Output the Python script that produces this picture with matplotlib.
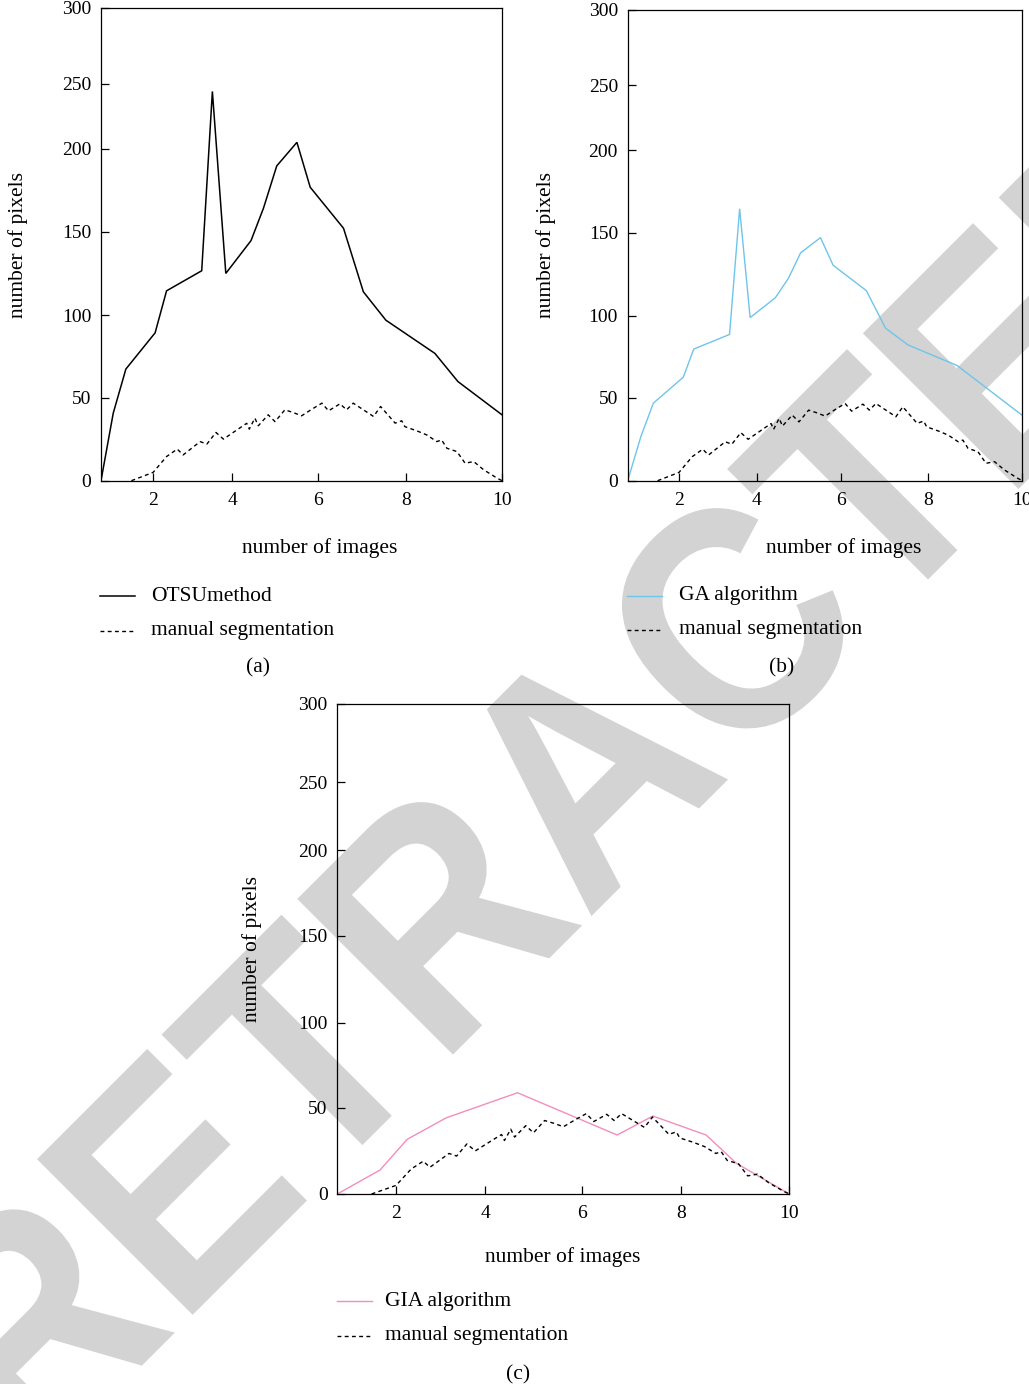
import numpy as np
import matplotlib
matplotlib.use("Agg")
import matplotlib.pyplot as plt
from matplotlib.lines import Line2D
from matplotlib.textpath import TextPath
from matplotlib.patches import PathPatch
from matplotlib.font_manager import FontProperties
from matplotlib.transforms import Affine2D

# ---------------- data ----------------
otsu_x = [0.68, 0.99, 1.31, 2.05, 2.34, 3.23, 3.50, 3.84, 4.44, 4.73, 5.04, 5.51,
          5.82, 6.58, 7.03, 7.54, 8.60, 9.08, 10.0]
otsu_y = [0, 40.6, 67.3, 89.3, 114.6, 126.6, 244, 125, 144.6, 164.1, 189.7, 205,
          176.8, 152, 114, 97, 76.8, 59.7, 39.6]

ga_x = [0.68, 1.02, 1.34, 2.11, 2.38, 3.30, 3.56, 3.83, 4.44, 4.75, 5.04, 5.51,
        5.81, 6.58, 7.02, 7.54, 8.62, 10.0]
ga_y = [0, 26.7, 46.8, 62.6, 79.8, 88.7, 164.5, 99, 110.9, 122.6, 137.9, 147,
        130.4, 115.2, 92.6, 82.3, 69.7, 39.4]

gia_x = [0.68, 1.64, 2.25, 3.13, 4.67, 6.71, 7.43, 8.46, 9.02, 10.0]
gia_y = [0, 13.9, 31.7, 44.2, 58.8, 34.2, 45.2, 34.2, 17.8, 0]

manual_x = [1.45, 2.0, 2.34, 2.61, 2.76, 3.19, 3.36, 3.59, 3.78, 4.11, 4.34, 4.40,
            4.53, 4.61, 4.84, 5.00, 5.23, 5.42, 5.62, 5.86, 6.09, 6.24, 6.50, 6.65,
            6.80, 7.26, 7.42, 7.75, 7.90, 7.97, 8.22, 8.43, 8.64, 8.74, 8.85, 9.06,
            9.23, 9.41, 9.62, 9.90, 10.0]
manual_y = [0, 5, 14.5, 19, 15.5, 23.5, 22, 29, 25, 30.5, 34.5, 31,
            37.6, 33, 39.6, 35.5, 42.6, 41, 39, 43, 46.6, 42, 46.2, 42.6,
            46.6, 38.6, 44.6, 34.6, 36, 32.5, 30, 27.5, 23.5, 24.5, 19.5, 17.5,
            10.5, 11.5, 6.5, 1.5, 0]

x_ticks = [2, 4, 6, 8, 10]
y_ticks = [0, 50, 100, 150, 200, 250, 300]
x_label = "number of images"
y_label = "number of pixels"
panels = [
    dict(name="(a)", series=(otsu_x, otsu_y), label="OTSUmethod", color="black", lw=1.1),
    dict(name="(b)", series=(ga_x, ga_y), label="GA algorithm", color="#6EC5E9", lw=1.0),
    dict(name="(c)", series=(gia_x, gia_y), label="GIA algorithm", color="#F28DBE", lw=1.0),
]
manual_label = "manual segmentation"
watermark = "RETRACTED"

# ---------------- layout (the original axes are non-uniformly spaced) ----------------
W, H = 1029, 1384
X_POS = ([0.68, 2, 4, 6, 8, 10], [0.0, 0.13, 0.327, 0.541, 0.761, 1.0])
Y_POS = ([0, 50, 100, 150, 200, 250, 300], [0.0, 0.176, 0.350, 0.527, 0.702, 0.840, 1.0])


def make_scale(vals, fracs):
    v = np.asarray(vals, float)
    f = np.asarray(fracs, float)

    def _map(x, a, b):
        x = np.asarray(x, float)
        out = np.interp(x, a, b)
        out = np.where(x < a[0], b[0] + (x - a[0]) * (b[1] - b[0]) / (a[1] - a[0]), out)
        out = np.where(x > a[-1], b[-1] + (x - a[-1]) * (b[-1] - b[-2]) / (a[-1] - a[-2]), out)
        return out

    return (lambda x: _map(x, v, f)), (lambda y: _map(y, f, v))


xfwd, xinv = make_scale(*X_POS)
yfwd, yinv = make_scale(*Y_POS)

SERIF = ["Liberation Serif", "DejaVu Serif"]
plt.rcParams["font.family"] = SERIF
TICK_FS = 14
TEXT_FS = 15.5
DASH = (0, (2.8, 2.4))

fig = plt.figure(figsize=(W / 100, H / 100), dpi=100)


def rect(l, t, r, b):
    return [l / W, 1 - b / H, (r - l) / W, (b - t) / H]


def P(x, y):
    return x / W, 1 - y / H


# watermark behind everything
wm = TextPath((0, 0), watermark, size=320,
              prop=FontProperties(family="Liberation Sans", weight="bold"))
wm_tr = Affine2D().scale(0.9, 1.0).rotate_deg(45).translate(32, H - 1475.5)
fig.add_artist(PathPatch(wm, transform=wm_tr, facecolor="#D3D3D3",
                         edgecolor="none", zorder=-5))

geo = [
    dict(rect=rect(101, 8, 502, 480.7), ylab=(18, 245), xlab=(320, 553),
         leg_x=(100, 135, 151), leg_y=(596, 601, 631, 635), tag=(258, 672)),
    dict(rect=rect(627.7, 10, 1022.3, 480.7), ylab=(546, 245), xlab=(844, 553),
         leg_x=(627, 662, 679), leg_y=(596, 600, 630, 634), tag=(782, 672)),
    dict(rect=rect(337.3, 704, 789.3, 1194), ylab=(252, 949), xlab=(563, 1262),
         leg_x=(337, 372, 385), leg_y=(1301, 1306, 1336, 1340), tag=(518, 1379)),
]

for pnl, g in zip(panels, geo):
    ax = fig.add_axes(g["rect"])
    ax.set_facecolor("none")
    sx, sy = pnl["series"]
    ax.plot(sx, sy, color=pnl["color"], lw=pnl["lw"], solid_joinstyle="miter")
    ax.plot(manual_x, manual_y, color="black", lw=1.0, linestyle=DASH)
    ax.set_xscale("function", functions=(xfwd, xinv))
    ax.set_yscale("function", functions=(yfwd, yinv))
    ax.set_xlim(X_POS[0][0], 10)
    ax.set_ylim(0, 300)
    ax.set_xticks(x_ticks)
    ax.set_xticklabels([str(t) for t in x_ticks])
    ax.set_yticks(y_ticks)
    ax.set_yticklabels([str(t) for t in y_ticks])
    ax.minorticks_off()
    ax.tick_params(direction="in", length=5.8, width=0.9, labelsize=TICK_FS)
    ax.tick_params(axis="y", pad=7)
    ax.tick_params(axis="x", pad=8)
    for s in ax.spines.values():
        s.set_linewidth(0.9)

    fig.text(*P(*g["ylab"]), y_label, rotation=90, ha="center", va="center",
             fontsize=TEXT_FS)
    fig.text(*P(*g["xlab"]), x_label, ha="center", va="baseline", fontsize=TEXT_FS)

    x0, x1, xt = g["leg_x"]
    l1, t1, l2, t2 = g["leg_y"]
    fig.add_artist(Line2D([x0 / W, x1 / W], [1 - l1 / H] * 2, transform=fig.transFigure,
                          color=pnl["color"], lw=pnl["lw"]))
    fig.text(*P(xt, t1), pnl["label"], ha="left", va="baseline", fontsize=TEXT_FS)
    fig.add_artist(Line2D([x0 / W, x1 / W], [1 - l2 / H] * 2, transform=fig.transFigure,
                          color="black", lw=1.0, linestyle=DASH))
    fig.text(*P(xt, t2), manual_label, ha="left", va="baseline", fontsize=TEXT_FS)
    fig.text(*P(*g["tag"]), pnl["name"], ha="center", va="baseline", fontsize=TEXT_FS)

fig.savefig("out.png", dpi=100)
